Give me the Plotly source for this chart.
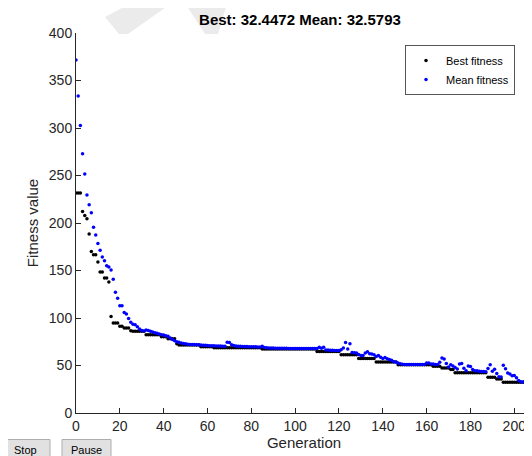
import plotly.graph_objects as go

generations = list(range(0, 209))

best_fitness = [
    231.6, 231.6, 231.6, 212.0, 208.0, 204.5, 188.4, 170.0, 166.6, 166.6,
    159.0, 148.4, 148.4, 142.0, 142.0, 137.9, 101.7, 94.7, 94.7, 94.7,
    91.2, 91.2, 89.5, 89.5, 89.5, 86.5, 86.0, 86.0, 86.0, 86.0,
    86.0, 86.0, 82.4, 82.4, 82.4, 82.4, 82.4, 82.4, 82.4, 80.3,
    80.3, 80.3, 78.2, 78.2, 78.2, 78.2, 73.0, 71.6, 71.6, 71.6,
    71.6, 71.6, 71.6, 71.6, 71.6, 71.6, 71.6, 69.8, 69.8, 69.8,
    69.8, 69.8, 69.8, 68.6, 68.6, 68.6, 68.6, 68.6, 68.6, 68.6,
    68.6, 68.6, 68.6, 68.6, 68.6, 68.6, 68.6, 68.6, 68.6, 68.6,
    68.6, 68.6, 68.6, 68.6, 68.6, 67.5, 67.5, 67.5, 67.5, 67.5,
    67.5, 67.5, 67.5, 67.5, 67.5, 67.5, 67.5, 67.5, 67.5, 67.5,
    67.5, 67.5, 67.5, 67.5, 67.5, 67.5, 67.5, 67.5, 67.5, 67.5,
    64.8, 64.8, 64.8, 64.8, 64.8, 64.8, 64.8, 64.8, 64.8, 64.8,
    64.8, 61.4, 61.4, 61.4, 61.4, 61.4, 61.4, 61.4, 61.4, 57.5,
    57.5, 57.5, 57.5, 57.5, 57.5, 57.5, 57.5, 53.6, 53.6, 53.6,
    53.6, 53.6, 53.6, 53.6, 53.6, 53.6, 53.6, 50.9, 50.9, 50.9,
    50.9, 50.9, 50.9, 50.9, 50.9, 50.9, 50.9, 50.9, 50.9, 50.9,
    50.9, 50.9, 50.9, 49.2, 49.2, 49.2, 49.2, 47.4, 47.4, 47.4,
    47.4, 45.7, 45.7, 42.4, 42.4, 42.4, 42.4, 42.4, 42.4, 42.4,
    42.4, 42.4, 42.4, 42.4, 42.4, 42.4, 42.4, 42.4, 37.6, 37.6,
    37.6, 37.6, 35.8, 35.8, 35.8, 32.4472, 32.4472, 32.4472, 32.4472, 32.4472,
    32.4472, 32.4472, 32.4472, 32.4472, 32.4472, 32.4472, 32.4472, 32.4472, 32.4472,
]

mean_fitness = [
    371.6, 333.7, 302.7, 273.0, 251.6, 229.5, 219.3, 210.8, 195.4, 187.4,
    178.5, 171.2, 164.2, 160.3, 155.0, 153.8, 150.4, 140.8, 127.0, 120.8,
    112.9, 112.9, 105.9, 104.3, 99.6, 95.4, 93.5, 93.0, 90.8, 88.4,
    86.8, 86.3, 87.5, 86.8, 86.0, 85.2, 84.4, 84.0, 83.2, 82.5,
    82.0, 81.4, 80.7, 79.0, 77.3, 76.0, 75.0, 74.4, 73.8, 73.2,
    72.8, 72.5, 72.2, 72.0, 72.0, 71.9, 71.8, 71.6, 71.4, 71.2,
    71.0, 70.9, 70.8, 70.7, 70.6, 70.5, 70.4, 70.3, 70.3, 74.6,
    74.2, 71.8, 71.0, 70.5, 70.3, 70.2, 70.1, 70.0, 69.9, 69.8,
    69.8, 69.7, 69.7, 69.6, 69.6, 70.2, 69.0, 68.6, 68.4, 68.3,
    68.3, 68.2, 68.2, 68.2, 68.1, 68.1, 68.1, 68.0, 68.0, 68.0,
    68.0, 67.9, 67.9, 67.9, 67.9, 67.9, 67.8, 67.8, 67.8, 67.8,
    68.0, 69.3, 68.2, 69.2, 66.4, 66.2, 66.0, 66.0, 65.9, 65.8,
    65.8, 66.6, 68.4, 74.3, 67.3, 73.0, 63.6, 63.4, 63.2, 61.6,
    60.4, 60.6, 63.2, 64.6, 62.4, 62.1, 61.4, 59.4, 60.4, 58.6,
    57.4, 58.5, 57.0, 56.4, 55.5, 54.0, 53.6, 52.6, 51.8, 51.2,
    51.0, 51.0, 51.0, 51.0, 51.0, 51.0, 51.0, 51.0, 51.0, 51.0,
    52.6, 52.6, 51.6, 51.6, 51.1, 51.0, 53.5, 57.9, 56.8, 52.2,
    48.5, 50.9, 49.6, 47.8, 46.2, 51.6, 52.2, 47.0, 44.4, 49.6,
    49.0, 45.7, 44.4, 44.6, 44.0, 43.8, 43.6, 43.4, 46.8, 50.9,
    44.0, 46.0, 41.5, 38.2, 37.9, 50.2, 46.6, 42.1, 41.0, 39.3,
    39.6, 37.0, 34.2, 32.9, 32.7, 32.6, 32.6, 32.58, 32.5793,
]

x_ticks = [0, 20, 40, 60, 80, 100, 120, 140, 160, 180, 200]
y_ticks = [0, 50, 100, 150, 200, 250, 300, 350, 400]

title_text = "Best: 32.4472 Mean: 32.5793"

# page offset (browser body margin)
OFF = 8
W, H = 532 - OFF, 456 - OFF
L, R, T, B = 68, 0, 25, 43
PW, PH = W - L - R, H - T - B


def px(x):
    # page pixel x -> paper coordinate
    return (x - OFF - L) / PW


def py(y):
    # page pixel y -> paper coordinate
    return (H - B - (y - OFF)) / PH


FONT = "Arial, 'Liberation Sans', Helvetica, sans-serif"
AX = "#262626"

fig = go.Figure()
fig.add_trace(go.Scatter(
    x=generations, y=best_fitness, mode="markers", name="Best fitness",
    marker=dict(color="black", size=3.5, symbol="circle", line=dict(width=0)),
))
fig.add_trace(go.Scatter(
    x=generations, y=mean_fitness, mode="markers", name="Mean fitness",
    marker=dict(color="#0000ff", size=3.5, symbol="circle", line=dict(width=0)),
))

shapes = []
# faint watermark
for pts in ([(105, 17), (137, 0), (176, 0), (128, 34), (119, 34)],
            [(183, 0), (228, 0), (218, 34), (205, 34)]):
    path = "M " + " L ".join(f"{px(a):.4f},{py(b):.4f}" for a, b in pts) + " Z"
    shapes.append(dict(type="path", xref="paper", yref="paper", path=path,
                       fillcolor="#ebebeb", line=dict(width=0), layer="below"))
# buttons
for x0, x1 in ((0, 50), (62, 111)):
    shapes.append(dict(type="rect", xref="paper", yref="paper",
                       x0=px(x0), x1=px(x1), y0=py(457), y1=py(439.5),
                       fillcolor="#e1e1e1", line=dict(color="#adadad", width=1)))

annotations = [
    dict(text="Stop", x=px(25), y=py(449.5), xref="paper", yref="paper",
         xanchor="center", yanchor="middle",
         showarrow=False, font=dict(family=FONT, size=11, color="black")),
    dict(text="Pause", x=px(86.5), y=py(449.5), xref="paper", yref="paper",
         xanchor="center", yanchor="middle",
         showarrow=False, font=dict(family=FONT, size=11, color="black")),
]

fig.update_layout(
    width=W, height=H,
    margin=dict(l=L, r=R, t=T, b=B, autoexpand=False),
    paper_bgcolor="white", plot_bgcolor="white",
    font=dict(family=FONT, size=14, color=AX),
    title=dict(text="<b>" + title_text + "</b>", x=(300 - OFF) / W, xanchor="center",
               y=1 - (20 - OFF) / H, yanchor="middle", yref="container",
               font=dict(family=FONT, size=15, color="black")),
    showlegend=True,
    legend=dict(x=px(405), y=py(45), xanchor="left", yanchor="top",
                bgcolor="white", bordercolor="#555555", borderwidth=1,
                font=dict(family=FONT, size=11, color="black"),
                itemsizing="trace", tracegroupgap=0),
    shapes=shapes, annotations=annotations,
    xaxis=dict(range=[0, (532 - 76.3) / 2.19], tickvals=x_ticks, ticks="inside",
               ticklen=5, tickcolor=AX, showline=True, linecolor=AX, linewidth=1,
               showgrid=False, zeroline=False, mirror=False,
               tickfont=dict(family=FONT, size=14, color=AX),
               title=dict(text="Generation", standoff=4,
                          font=dict(family=FONT, size=15, color=AX))),
    yaxis=dict(range=[0, 400], tickvals=y_ticks, ticks="inside",
               ticklen=5, tickcolor=AX, showline=True, linecolor=AX, linewidth=1,
               showgrid=False, zeroline=False, mirror=False,
               tickfont=dict(family=FONT, size=14, color=AX),
               title=dict(text="Fitness value", standoff=6,
                          font=dict(family=FONT, size=15, color=AX))),
)

fig.write_html("out.html")
